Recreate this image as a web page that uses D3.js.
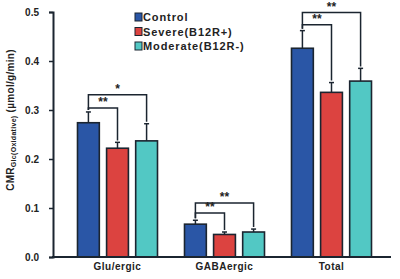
<!DOCTYPE html>
<html>
<head>
<meta charset="utf-8">
<script src="https://cdn.jsdelivr.net/npm/d3@7"></script>
<style>
  body { margin: 0; background: #fff; }
  text { font-family: "Liberation Sans", Arial, sans-serif; font-weight: bold; fill: #222; }
</style>
</head>
<body>
<div class="chart"></div>
<script>
'use strict'

// Data.
const groups = ['Glu/ergic', 'GABAergic', 'Total'];
const seriesNames = ['Control', 'Severe(B12R+)', 'Moderate(B12R-)'];
const seriesColors = ['#2a56a6', '#dc4340', '#52c8c4'];
const controlValues = [0.274, 0.067, 0.426];
const severeValues = [0.222, 0.046, 0.336];
const moderateValues = [0.237, 0.051, 0.359];
const controlErrors = [0.022, 0.008, 0.036];
const severeErrors = [0.012, 0.005, 0.02];
const moderateErrors = [0.035, 0.006, 0.026];
const yTicks = [0.0, 0.1, 0.2, 0.3, 0.4, 0.5];

// Significance brackets: group, from series, to series, level, label.
const bracketGroups = ['Glu/ergic', 'Glu/ergic', 'GABAergic', 'GABAergic', 'Total', 'Total'];
const bracketFrom = [0, 0, 0, 0, 0, 0];
const bracketTo = [1, 2, 1, 2, 1, 2];
const bracketLevels = [0.304, 0.331, 0.09, 0.11, 0.474, 0.499];
const bracketLabels = ['**', '*', '**', '**', '**', '**'];

const values = [controlValues, severeValues, moderateValues];
const errors = [controlErrors, severeErrors, moderateErrors];

let data = [];
groups.forEach((g, gi) => {
    seriesNames.forEach((s, si) => {
        data.push({group: g, series: si, value: values[si][gi], err: errors[si][gi]});
    });
});

let brackets = bracketGroups.map((g, i) => ({
    group: g, from: bracketFrom[i], to: bracketTo[i], level: bracketLevels[i], label: bracketLabels[i]
}));

let width = 400, height = 279;

let svg = d3.select('.chart')
    .append('svg')
    .attr('width', width)
    .attr('height', height);

let x = d3.scaleBand()
    .domain(groups)
    .range([64, 385]);

let xSub = d3.scaleBand()
    .domain(d3.range(seriesNames.length))
    .range([-40, 40])
    .paddingInner(0.25);

let y = d3.scaleLinear()
    .domain([0, 0.5])
    .range([257, 12]);

let cx = (g, s) => x(g) + x.bandwidth() / 2 + xSub(s) + xSub.bandwidth() / 2;

// Bars.
svg.append('g')
    .selectAll('rect')
    .data(data)
    .join('rect')
    .attr('x', d => x(d.group) + x.bandwidth() / 2 + xSub(d.series))
    .attr('y', d => y(d.value))
    .attr('width', xSub.bandwidth())
    .attr('height', d => y(0) - y(d.value))
    .style('fill', d => seriesColors[d.series])
    .style('stroke', '#1b2530')
    .style('stroke-width', 1.6);

// Error bars.
let eb = svg.append('g')
    .style('stroke', '#1b2530')
    .style('stroke-width', 1.5);
eb.selectAll('line.v')
    .data(data)
    .join('line')
    .attr('class', 'v')
    .attr('x1', d => cx(d.group, d.series))
    .attr('x2', d => cx(d.group, d.series))
    .attr('y1', d => y(d.value))
    .attr('y2', d => y(d.value + d.err));
eb.selectAll('line.c')
    .data(data)
    .join('line')
    .attr('class', 'c')
    .attr('x1', d => cx(d.group, d.series) - 2.5)
    .attr('x2', d => cx(d.group, d.series) + 2.5)
    .attr('y1', d => y(d.value + d.err))
    .attr('y2', d => y(d.value + d.err));

// Brackets.
let topOf = (g, s) => {
    let d = data.find(e => e.group === g && e.series === s);
    return d.value + d.err + 0.004;
};
svg.append('g')
    .selectAll('path')
    .data(brackets)
    .join('path')
    .attr('d', d => {
        let x1 = cx(d.group, d.from), x2 = cx(d.group, d.to);
        let yl = y(d.level);
        return `M${x1},${y(topOf(d.group, d.from))}V${yl}H${x2}V${y(topOf(d.group, d.to))}`;
    })
    .style('fill', 'none')
    .style('stroke', '#1b2530')
    .style('stroke-width', 1.5);

svg.append('g')
    .selectAll('text')
    .data(brackets)
    .join('text')
    .attr('x', d => (cx(d.group, d.from) + cx(d.group, d.to)) / 2)
    .attr('y', d => y(d.level) - 2)
    .style('text-anchor', 'middle')
    .style('font-size', '12px')
    .text(d => d.label);

// Axes.
let yAxis = d3.axisLeft(y)
    .tickValues(yTicks)
    .tickSize(4)
    .tickFormat(d3.format('.1f'));

let yg = svg.append('g')
    .attr('transform', 'translate(53,0)')
    .call(yAxis);
yg.select('.domain').style('stroke', '#1b2530').style('stroke-width', 2);
yg.selectAll('.tick line').style('stroke', '#1b2530').style('stroke-width', 1.5);
yg.selectAll('.tick text')
    .attr('x', -14)
    .style('font-size', '10px')
    .style('font-family', '"Liberation Sans", Arial, sans-serif')
    .style('font-weight', 'bold')
    .style('fill', '#222');

svg.append('line')
    .attr('x1', 52)
    .attr('x2', 391)
    .attr('y1', y(0))
    .attr('y2', y(0))
    .style('stroke', '#1b2530')
    .style('stroke-width', 2);

svg.append('g')
    .selectAll('text')
    .data(groups)
    .join('text')
    .attr('x', d => x(d) + x.bandwidth() / 2)
    .attr('y', 270)
    .style('text-anchor', 'middle')
    .style('font-size', '10px')
    .style('letter-spacing', '0.5px')
    .text(d => d);

// Y label.
let yl = svg.append('text')
    .attr('transform', 'translate(14,120) rotate(-90)')
    .style('text-anchor', 'middle')
    .style('font-size', '10px')
    .style('letter-spacing', '0.3px');
yl.append('tspan').text('CMR');
yl.append('tspan').attr('dy', 2).style('font-size', '7px').text('Glc(Oxidative)');
yl.append('tspan').attr('dy', -2).text(' (µmol/g/min)');

// Legend.
let legend = svg.append('g')
    .selectAll('g')
    .data(seriesNames)
    .join('g')
    .attr('transform', (d, i) => `translate(135,${13 + i * 14.5})`);
legend.append('rect')
    .attr('width', 7)
    .attr('height', 8)
    .style('fill', (d, i) => seriesColors[i])
    .style('stroke', '#1b2530')
    .style('stroke-width', 1);
legend.append('text')
    .attr('x', 8)
    .attr('y', 8)
    .style('font-size', '11px')
    .style('letter-spacing', '0.9px')
    .text(d => d);
</script>
</body>
</html>
